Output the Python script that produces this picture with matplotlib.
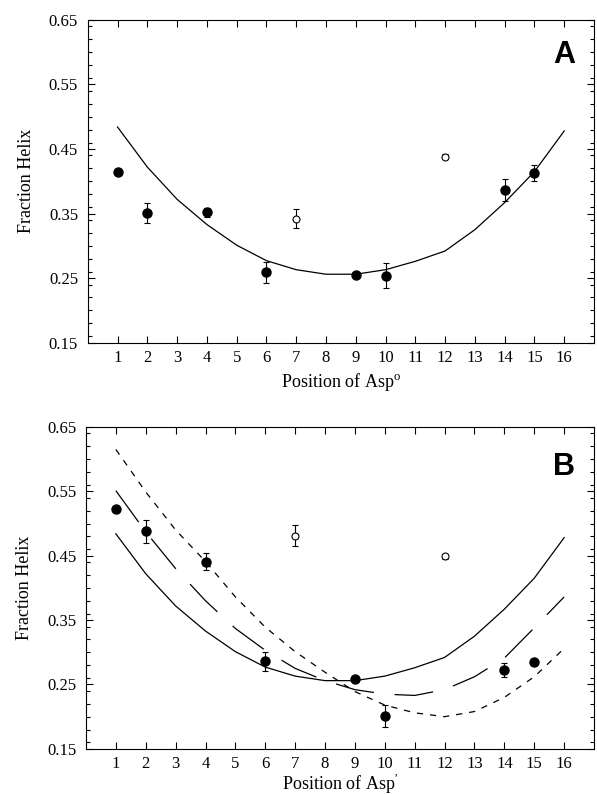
import matplotlib
matplotlib.use("Agg")
import matplotlib.pyplot as plt
from matplotlib.ticker import MultipleLocator

plt.rcParams['font.family'] = ['Liberation Serif', 'DejaVu Serif']
plt.rcParams['lines.scale_dashes'] = False
plt.rcParams['mathtext.fontset'] = 'custom'
plt.rcParams['mathtext.rm'] = 'Liberation Serif'

# posiciones de Asp (1..16) para las curvas calculadas
posiciones = list(range(1, 17))

# curva calculada (misma en A y B)
curva_solida = [0.484, 0.422, 0.372, 0.333, 0.301, 0.277, 0.263, 0.256,
                0.256, 0.263, 0.276, 0.292, 0.325, 0.367, 0.415, 0.478]
# curvas extra del panel B
curva_larga = [0.551, 0.487, 0.430, 0.380, 0.337, 0.303, 0.275, 0.256,
               0.242, 0.235, 0.233, 0.242, 0.262, 0.291, 0.338, 0.386]
curva_corta = [0.615, 0.549, 0.490, 0.441, 0.386, 0.339, 0.301, 0.269,
               0.239, 0.218, 0.206, 0.200, 0.208, 0.230, 0.262, 0.306]

# panel A, Asp neutro
pos_A_llenos = [1, 2, 4, 6, 9, 10, 14, 15]
frac_A_llenos = [0.414, 0.351, 0.352, 0.259, 0.255, 0.254, 0.387, 0.413]
err_A_llenos = [0.005, 0.016, 0.007, 0.016, 0.004, 0.020, 0.017, 0.012]
pos_A_abiertos = [7, 12]
frac_A_abiertos = [0.342, 0.438]
err_A_abiertos = [0.015, 0.004]

# panel B, Asp cargado
pos_B_llenos = [1, 2, 4, 6, 9, 10, 14, 15]
frac_B_llenos = [0.522, 0.488, 0.441, 0.286, 0.258, 0.201, 0.272, 0.285]
err_B_llenos = [0.004, 0.018, 0.013, 0.015, 0.004, 0.017, 0.011, 0.005]
pos_B_abiertos = [7, 12]
frac_B_abiertos = [0.481, 0.449]
err_B_abiertos = [0.016, 0.004]

y_ticks = [0.15, 0.25, 0.35, 0.45, 0.55, 0.65]


def preparar_ejes(ax, etiqueta_x, letra, y_letra, pad_x):
    ax.set_xlim(0, 17)
    ax.set_ylim(0.15, 0.65)
    ax.set_xticks(posiciones)
    ax.set_xticklabels([str(p) for p in posiciones])
    ax.set_yticks(y_ticks)
    ax.set_yticklabels(["%.2f" % v for v in y_ticks])
    ax.yaxis.set_minor_locator(MultipleLocator(0.02))
    ax.tick_params(which='both', direction='in', top=True, right=True,
                   labelsize=12, width=0.8)
    ax.tick_params(which='major', length=5, pad=7)
    ax.tick_params(axis='x', which='major', pad=5)
    ax.tick_params(which='minor', length=3)
    ax.tick_params(axis='x', which='minor', bottom=False, top=False)
    for s in ax.spines.values():
        s.set_linewidth(0.8)
    ax.set_ylabel("Fraction Helix", fontsize=13, labelpad=10)
    ax.set_xlabel(etiqueta_x, fontsize=13, labelpad=pad_x)
    ax.text(16.0, y_letra, letra, family='Liberation Sans', fontweight='bold',
            fontsize=22, ha='center', va='center')


def puntos(ax, x_l, y_l, e_l, x_a, y_a, e_a):
    ax.errorbar(x_l, y_l, yerr=e_l, fmt='o', color='black', markersize=6.5,
                elinewidth=0.8, capsize=2.5, capthick=0.8, zorder=3)
    ax.errorbar(x_a, y_a, yerr=e_a, fmt='o', color='black', mfc='white',
                mec='black', markersize=5, mew=0.8, elinewidth=0.8,
                capsize=2.5, capthick=0.8, zorder=3)


fig = plt.figure(figsize=(5.97, 7.95), dpi=100)

# -------- panel A --------
ax1 = fig.add_axes([0.147, 0.569, 0.848, 0.406])
ax1.plot(posiciones, curva_solida, color='black', lw=0.9)
puntos(ax1, pos_A_llenos, frac_A_llenos, err_A_llenos,
       pos_A_abiertos, frac_A_abiertos, err_A_abiertos)
preparar_ejes(ax1, "Position of Asp$^{\\mathrm{o}}$", "A", 0.596, 4)

# -------- panel B --------
ax2 = fig.add_axes([0.144, 0.058, 0.851, 0.405])
ax2.plot(posiciones, curva_solida, color='black', lw=0.9)
ax2.plot(posiciones, curva_larga, color='black', lw=0.9,
         linestyle=(0, (28, 15)))
ax2.plot(posiciones, curva_corta, color='black', lw=0.9,
         linestyle=(0, (4.5, 5)))
puntos(ax2, pos_B_llenos, frac_B_llenos, err_B_llenos,
       pos_B_abiertos, frac_B_abiertos, err_B_abiertos)
preparar_ejes(ax2, "Position of Asp$^{\\prime}$", "B", 0.587, 0)

fig.savefig("out.png", dpi=100)
